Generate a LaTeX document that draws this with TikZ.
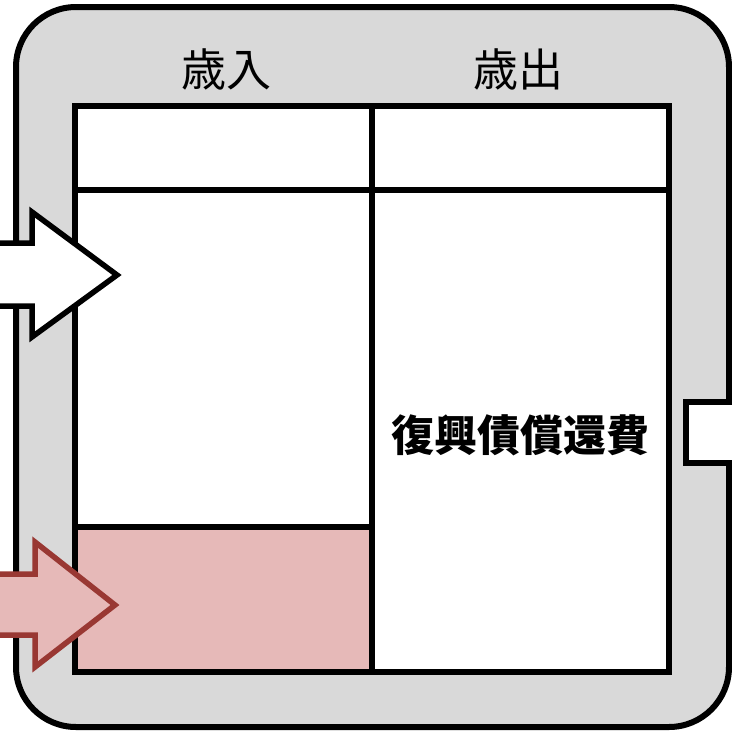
\documentclass[tikz,border=0pt]{standalone}
\usepackage{fontspec}
\newfontfamily\jpfont{Noto Sans CJK JP}
\definecolor{outergray}{HTML}{D9D9D9}
\definecolor{pinkfill}{HTML}{E6B9B8}
\definecolor{pinkline}{HTML}{993833}
\begin{document}
\begin{tikzpicture}[x=1pt,y=-1pt,
  frame/.style={draw=black,line width=6pt,fill=outergray,rounded corners=60pt},
  cell/.style={draw=black,line width=5.5pt,line join=miter},
  whitearrow/.style={draw=black,fill=white,line width=5.5pt,line join=miter},
  pinkarrow/.style={draw=pinkline,fill=pinkfill,line width=5.5pt,line join=miter},
  headtext/.style={font=\jpfont\fontsize{45}{50}\selectfont,inner sep=0pt},
  bodytext/.style={font=\jpfont\bfseries\fontsize{43}{48}\selectfont,inner sep=0pt}]
\useasboundingbox (0,0) rectangle (732,731);
\clip (0,0) rectangle (732,731);
% outer frame
\draw[frame] (16,7) rectangle (729,727);
% table
\coordinate (tl) at (75,106);
\coordinate (br) at (669,672);
\fill[white] (tl) rectangle (br);
\fill[pinkfill] (75,527) rectangle (372,672);
\draw[cell] (75,527) -- (372,527);
\draw[cell] (75,190) -- (669,190);
\draw[cell] (372,106) -- (372,672);
\draw[cell] (tl) rectangle (br);
% header texts
\node[headtext] (rev) at (226,69) {歳入};
\node[headtext] (exp) at (518,69) {歳出};
\node[bodytext] (debt) at (520,435) {復興債償還費};
% arrows
\draw[whitearrow] (-10,243) -- (32,243) -- (32,212) -- (117,275) -- (32,337) -- (32,306) -- (-10,306) -- cycle;
\draw[pinkarrow] (-10,574) -- (35,574) -- (35,542) -- (115,605) -- (35,667) -- (35,635) -- (-10,635) -- cycle;
% right small box
\draw[whitearrow] (745,402) -- (686,402) -- (686,463) -- (745,463);
\fill[white] (689,405) rectangle (745,460);
\end{tikzpicture}
\end{document}
